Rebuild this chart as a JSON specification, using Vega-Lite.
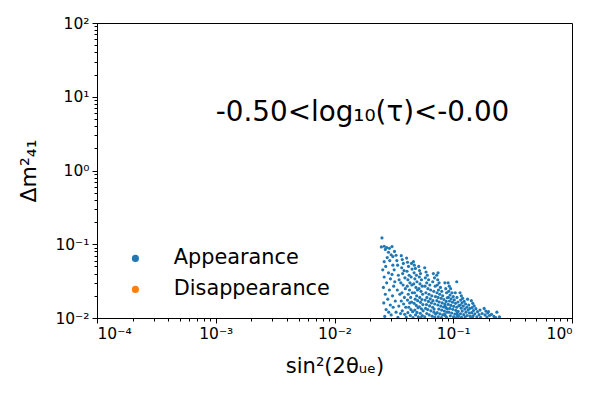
{
  "$schema": "https://vega.github.io/schema/vega-lite/v6.json",
  "autosize": {"type": "none"},
  "padding": {"left": 97, "top": 23, "right": 28, "bottom": 82},
  "width": 475,
  "height": 295,
  "config": {
    "view": {"stroke": "black", "strokeWidth": 1},
    "font": "DejaVu Sans",
    "axis": {"grid": false, "domainColor": "black", "tickColor": "black", "labelColor": "black", "titleColor": "black", "labelFont": "DejaVu Sans", "titleFont": "DejaVu Sans", "titleFontWeight": "normal", "tickWidth": 1, "domainWidth": 1}
  },
  "datasets": {
    "pts": [
{"x":0.0251,"y":0.122,"s":"Appearance"},{"x":0.0248,"y":0.092,"s":"Appearance"},{"x":0.0262,"y":0.094,"s":"Appearance"},{"x":0.0275,"y":0.090,"s":"Appearance"},{"x":0.0290,"y":0.088,"s":"Appearance"},{"x":0.0305,"y":0.093,"s":"Appearance"},{"x":0.0268,"y":0.085,"s":"Appearance"},{"x":0.0285,"y":0.078,"s":"Appearance"},{"x":0.0300,"y":0.072,"s":"Appearance"},{"x":0.0278,"y":0.066,"s":"Appearance"},{"x":0.0262,"y":0.058,"s":"Appearance"},{"x":0.0292,"y":0.060,"s":"Appearance"},{"x":0.0310,"y":0.068,"s":"Appearance"},{"x":0.0320,"y":0.080,"s":"Appearance"},{"x":0.0330,"y":0.071,"s":"Appearance"},{"x":0.0255,"y":0.045,"s":"Appearance"},{"x":0.0270,"y":0.050,"s":"Appearance"},{"x":0.0285,"y":0.041,"s":"Appearance"},{"x":0.0262,"y":0.036,"s":"Appearance"},{"x":0.0296,"y":0.034,"s":"Appearance"},{"x":0.0275,"y":0.030,"s":"Appearance"},{"x":0.0258,"y":0.026,"s":"Appearance"},{"x":0.0290,"y":0.024,"s":"Appearance"},{"x":0.0268,"y":0.021,"s":"Appearance"},{"x":0.0281,"y":0.018,"s":"Appearance"},{"x":0.0260,"y":0.016,"s":"Appearance"},{"x":0.0295,"y":0.015,"s":"Appearance"},{"x":0.0272,"y":0.013,"s":"Appearance"},{"x":0.0286,"y":0.012,"s":"Appearance"},{"x":0.0300,"y":0.011,"s":"Appearance"},{"x":0.0265,"y":0.0105,"s":"Appearance"},{"x":0.0310,"y":0.052,"s":"Appearance"},{"x":0.0318,"y":0.045,"s":"Appearance"},{"x":0.0305,"y":0.039,"s":"Appearance"},{"x":0.0322,"y":0.031,"s":"Appearance"},{"x":0.0315,"y":0.027,"s":"Appearance"},{"x":0.0308,"y":0.020,"s":"Appearance"},{"x":0.0325,"y":0.017,"s":"Appearance"},{"x":0.0312,"y":0.014,"s":"Appearance"},{"x":0.0330,"y":0.012,"s":"Appearance"},{"x":0.0335,"y":0.060,"s":"Appearance"},{"x":0.0340,"y":0.052,"s":"Appearance"},{"x":0.0345,"y":0.038,"s":"Appearance"},{"x":0.0350,"y":0.033,"s":"Appearance"},{"x":0.0338,"y":0.024,"s":"Appearance"},{"x":0.0355,"y":0.021,"s":"Appearance"},{"x":0.0348,"y":0.0145,"s":"Appearance"},{"x":0.0360,"y":0.0115,"s":"Appearance"},{"x":0.0342,"y":0.0102,"s":"Appearance"},
{"x":0.0365,"y":0.070,"s":"Appearance"},{"x":0.0372,"y":0.062,"s":"Appearance"},{"x":0.0380,"y":0.055,"s":"Appearance"},{"x":0.0368,"y":0.048,"s":"Appearance"},{"x":0.0385,"y":0.044,"s":"Appearance"},{"x":0.0375,"y":0.040,"s":"Appearance"},{"x":0.0392,"y":0.035,"s":"Appearance"},{"x":0.0362,"y":0.030,"s":"Appearance"},{"x":0.0378,"y":0.028,"s":"Appearance"},{"x":0.0395,"y":0.025,"s":"Appearance"},{"x":0.0370,"y":0.022,"s":"Appearance"},{"x":0.0388,"y":0.019,"s":"Appearance"},{"x":0.0365,"y":0.017,"s":"Appearance"},{"x":0.0382,"y":0.0155,"s":"Appearance"},{"x":0.0398,"y":0.014,"s":"Appearance"},{"x":0.0372,"y":0.0125,"s":"Appearance"},{"x":0.0390,"y":0.0112,"s":"Appearance"},{"x":0.0402,"y":0.0103,"s":"Appearance"},{"x":0.0405,"y":0.065,"s":"Appearance"},{"x":0.0412,"y":0.057,"s":"Appearance"},{"x":0.0420,"y":0.050,"s":"Appearance"},{"x":0.0408,"y":0.043,"s":"Appearance"},{"x":0.0425,"y":0.038,"s":"Appearance"},{"x":0.0415,"y":0.033,"s":"Appearance"},{"x":0.0432,"y":0.030,"s":"Appearance"},{"x":0.0410,"y":0.027,"s":"Appearance"},{"x":0.0428,"y":0.024,"s":"Appearance"},{"x":0.0418,"y":0.021,"s":"Appearance"},{"x":0.0438,"y":0.019,"s":"Appearance"},{"x":0.0412,"y":0.0175,"s":"Appearance"},{"x":0.0430,"y":0.016,"s":"Appearance"},{"x":0.0422,"y":0.014,"s":"Appearance"},{"x":0.0440,"y":0.013,"s":"Appearance"},{"x":0.0415,"y":0.0118,"s":"Appearance"},{"x":0.0435,"y":0.0108,"s":"Appearance"},{"x":0.0445,"y":0.055,"s":"Appearance"},{"x":0.0450,"y":0.046,"s":"Appearance"},{"x":0.0442,"y":0.036,"s":"Appearance"},{"x":0.0448,"y":0.028,"s":"Appearance"},{"x":0.0452,"y":0.022,"s":"Appearance"},{"x":0.0446,"y":0.0165,"s":"Appearance"},{"x":0.0455,"y":0.0122,"s":"Appearance"},{"x":0.0458,"y":0.0101,"s":"Appearance"},
{"x":0.0462,"y":0.058,"s":"Appearance"},{"x":0.0470,"y":0.052,"s":"Appearance"},{"x":0.0480,"y":0.047,"s":"Appearance"},{"x":0.0468,"y":0.041,"s":"Appearance"},{"x":0.0490,"y":0.038,"s":"Appearance"},{"x":0.0475,"y":0.034,"s":"Appearance"},{"x":0.0495,"y":0.031,"s":"Appearance"},{"x":0.0465,"y":0.029,"s":"Appearance"},{"x":0.0485,"y":0.026,"s":"Appearance"},{"x":0.0500,"y":0.024,"s":"Appearance"},{"x":0.0472,"y":0.022,"s":"Appearance"},{"x":0.0492,"y":0.020,"s":"Appearance"},{"x":0.0478,"y":0.018,"s":"Appearance"},{"x":0.0502,"y":0.0172,"s":"Appearance"},{"x":0.0468,"y":0.0158,"s":"Appearance"},{"x":0.0488,"y":0.0148,"s":"Appearance"},{"x":0.0505,"y":0.0138,"s":"Appearance"},{"x":0.0475,"y":0.0128,"s":"Appearance"},{"x":0.0495,"y":0.0119,"s":"Appearance"},{"x":0.0482,"y":0.0110,"s":"Appearance"},{"x":0.0508,"y":0.0104,"s":"Appearance"},{"x":0.0512,"y":0.050,"s":"Appearance"},{"x":0.0520,"y":0.044,"s":"Appearance"},{"x":0.0530,"y":0.040,"s":"Appearance"},{"x":0.0518,"y":0.036,"s":"Appearance"},{"x":0.0540,"y":0.033,"s":"Appearance"},{"x":0.0525,"y":0.029,"s":"Appearance"},{"x":0.0548,"y":0.027,"s":"Appearance"},{"x":0.0515,"y":0.025,"s":"Appearance"},{"x":0.0535,"y":0.023,"s":"Appearance"},{"x":0.0552,"y":0.021,"s":"Appearance"},{"x":0.0522,"y":0.019,"s":"Appearance"},{"x":0.0545,"y":0.0178,"s":"Appearance"},{"x":0.0530,"y":0.0163,"s":"Appearance"},{"x":0.0555,"y":0.0152,"s":"Appearance"},{"x":0.0518,"y":0.0142,"s":"Appearance"},{"x":0.0540,"y":0.0133,"s":"Appearance"},{"x":0.0558,"y":0.0125,"s":"Appearance"},{"x":0.0528,"y":0.0116,"s":"Appearance"},{"x":0.0548,"y":0.0108,"s":"Appearance"},{"x":0.0535,"y":0.0101,"s":"Appearance"},
{"x":0.0575,"y":0.048,"s":"Appearance"},{"x":0.0590,"y":0.042,"s":"Appearance"},{"x":0.0605,"y":0.038,"s":"Appearance"},{"x":0.0582,"y":0.035,"s":"Appearance"},{"x":0.0620,"y":0.033,"s":"Appearance"},{"x":0.0598,"y":0.030,"s":"Appearance"},{"x":0.0635,"y":0.028,"s":"Appearance"},{"x":0.0578,"y":0.027,"s":"Appearance"},{"x":0.0612,"y":0.025,"s":"Appearance"},{"x":0.0645,"y":0.024,"s":"Appearance"},{"x":0.0588,"y":0.022,"s":"Appearance"},{"x":0.0625,"y":0.021,"s":"Appearance"},{"x":0.0660,"y":0.020,"s":"Appearance"},{"x":0.0600,"y":0.019,"s":"Appearance"},{"x":0.0640,"y":0.0182,"s":"Appearance"},{"x":0.0580,"y":0.0175,"s":"Appearance"},{"x":0.0618,"y":0.0168,"s":"Appearance"},{"x":0.0655,"y":0.0160,"s":"Appearance"},{"x":0.0595,"y":0.0152,"s":"Appearance"},{"x":0.0632,"y":0.0146,"s":"Appearance"},{"x":0.0670,"y":0.0140,"s":"Appearance"},{"x":0.0585,"y":0.0135,"s":"Appearance"},{"x":0.0610,"y":0.0130,"s":"Appearance"},{"x":0.0648,"y":0.0125,"s":"Appearance"},{"x":0.0688,"y":0.0120,"s":"Appearance"},{"x":0.0598,"y":0.0115,"s":"Appearance"},{"x":0.0628,"y":0.0110,"s":"Appearance"},{"x":0.0665,"y":0.0106,"s":"Appearance"},{"x":0.0700,"y":0.0102,"s":"Appearance"},{"x":0.0575,"y":0.0104,"s":"Appearance"},{"x":0.0680,"y":0.040,"s":"Appearance"},{"x":0.0695,"y":0.035,"s":"Appearance"},{"x":0.0672,"y":0.031,"s":"Appearance"},{"x":0.0705,"y":0.027,"s":"Appearance"},{"x":0.0685,"y":0.023,"s":"Appearance"},{"x":0.0708,"y":0.0195,"s":"Appearance"},{"x":0.0675,"y":0.0172,"s":"Appearance"},{"x":0.0698,"y":0.0155,"s":"Appearance"},{"x":0.0690,"y":0.0132,"s":"Appearance"},{"x":0.0710,"y":0.0113,"s":"Appearance"},
{"x":0.0725,"y":0.038,"s":"Appearance"},{"x":0.0740,"y":0.033,"s":"Appearance"},{"x":0.0745,"y":0.041,"s":"Appearance"},{"x":0.0760,"y":0.030,"s":"Appearance"},{"x":0.0735,"y":0.028,"s":"Appearance"},{"x":0.0780,"y":0.026,"s":"Appearance"},{"x":0.0750,"y":0.024,"s":"Appearance"},{"x":0.0800,"y":0.023,"s":"Appearance"},{"x":0.0730,"y":0.022,"s":"Appearance"},{"x":0.0770,"y":0.021,"s":"Appearance"},{"x":0.0815,"y":0.020,"s":"Appearance"},{"x":0.0745,"y":0.019,"s":"Appearance"},{"x":0.0790,"y":0.0185,"s":"Appearance"},{"x":0.0835,"y":0.0178,"s":"Appearance"},{"x":0.0728,"y":0.0172,"s":"Appearance"},{"x":0.0762,"y":0.0165,"s":"Appearance"},{"x":0.0808,"y":0.0160,"s":"Appearance"},{"x":0.0850,"y":0.0155,"s":"Appearance"},{"x":0.0742,"y":0.0150,"s":"Appearance"},{"x":0.0785,"y":0.0145,"s":"Appearance"},{"x":0.0828,"y":0.0141,"s":"Appearance"},{"x":0.0870,"y":0.0137,"s":"Appearance"},{"x":0.0755,"y":0.0132,"s":"Appearance"},{"x":0.0798,"y":0.0128,"s":"Appearance"},{"x":0.0842,"y":0.0124,"s":"Appearance"},{"x":0.0885,"y":0.0120,"s":"Appearance"},{"x":0.0732,"y":0.0118,"s":"Appearance"},{"x":0.0772,"y":0.0114,"s":"Appearance"},{"x":0.0815,"y":0.0110,"s":"Appearance"},{"x":0.0860,"y":0.0107,"s":"Appearance"},{"x":0.0748,"y":0.0104,"s":"Appearance"},{"x":0.0795,"y":0.0101,"s":"Appearance"},{"x":0.0880,"y":0.0102,"s":"Appearance"},{"x":0.0850,"y":0.030,"s":"Appearance"},{"x":0.0865,"y":0.025,"s":"Appearance"},{"x":0.0878,"y":0.022,"s":"Appearance"},{"x":0.0890,"y":0.0188,"s":"Appearance"},{"x":0.0872,"y":0.0168,"s":"Appearance"},{"x":0.0855,"y":0.0146,"s":"Appearance"},{"x":0.0892,"y":0.0133,"s":"Appearance"},{"x":0.0845,"y":0.0112,"s":"Appearance"},
{"x":0.0905,"y":0.030,"s":"Appearance"},{"x":0.0925,"y":0.027,"s":"Appearance"},{"x":0.0950,"y":0.025,"s":"Appearance"},{"x":0.0915,"y":0.023,"s":"Appearance"},{"x":0.0975,"y":0.022,"s":"Appearance"},{"x":0.0940,"y":0.0205,"s":"Appearance"},{"x":0.1000,"y":0.0195,"s":"Appearance"},{"x":0.0910,"y":0.0190,"s":"Appearance"},{"x":0.0960,"y":0.0182,"s":"Appearance"},{"x":0.1020,"y":0.0176,"s":"Appearance"},{"x":0.0930,"y":0.0170,"s":"Appearance"},{"x":0.0985,"y":0.0164,"s":"Appearance"},{"x":0.1045,"y":0.0158,"s":"Appearance"},{"x":0.0908,"y":0.0153,"s":"Appearance"},{"x":0.0955,"y":0.0148,"s":"Appearance"},{"x":0.1010,"y":0.0144,"s":"Appearance"},{"x":0.1070,"y":0.0140,"s":"Appearance"},{"x":0.0935,"y":0.0135,"s":"Appearance"},{"x":0.0990,"y":0.0131,"s":"Appearance"},{"x":0.1050,"y":0.0127,"s":"Appearance"},{"x":0.1100,"y":0.0123,"s":"Appearance"},{"x":0.0920,"y":0.0120,"s":"Appearance"},{"x":0.0970,"y":0.0117,"s":"Appearance"},{"x":0.1030,"y":0.0113,"s":"Appearance"},{"x":0.1085,"y":0.0110,"s":"Appearance"},{"x":0.0945,"y":0.0107,"s":"Appearance"},{"x":0.1005,"y":0.0104,"s":"Appearance"},{"x":0.1060,"y":0.0101,"s":"Appearance"},{"x":0.1110,"y":0.0105,"s":"Appearance"},{"x":0.1040,"y":0.022,"s":"Appearance"},{"x":0.1075,"y":0.019,"s":"Appearance"},{"x":0.1095,"y":0.0165,"s":"Appearance"},{"x":0.1115,"y":0.0147,"s":"Appearance"},{"x":0.1080,"y":0.0118,"s":"Appearance"},{"x":0.1070,"y":0.031,"s":"Appearance"},
{"x":0.1140,"y":0.022,"s":"Appearance"},{"x":0.1170,"y":0.020,"s":"Appearance"},{"x":0.1200,"y":0.0185,"s":"Appearance"},{"x":0.1155,"y":0.0175,"s":"Appearance"},{"x":0.1235,"y":0.0168,"s":"Appearance"},{"x":0.1185,"y":0.0160,"s":"Appearance"},{"x":0.1270,"y":0.0155,"s":"Appearance"},{"x":0.1145,"y":0.0150,"s":"Appearance"},{"x":0.1215,"y":0.0145,"s":"Appearance"},{"x":0.1300,"y":0.0140,"s":"Appearance"},{"x":0.1165,"y":0.0136,"s":"Appearance"},{"x":0.1250,"y":0.0132,"s":"Appearance"},{"x":0.1335,"y":0.0128,"s":"Appearance"},{"x":0.1190,"y":0.0124,"s":"Appearance"},{"x":0.1280,"y":0.0120,"s":"Appearance"},{"x":0.1370,"y":0.0117,"s":"Appearance"},{"x":0.1150,"y":0.0114,"s":"Appearance"},{"x":0.1225,"y":0.0111,"s":"Appearance"},{"x":0.1310,"y":0.0108,"s":"Appearance"},{"x":0.1390,"y":0.0105,"s":"Appearance"},{"x":0.1175,"y":0.0102,"s":"Appearance"},{"x":0.1260,"y":0.0103,"s":"Appearance"},{"x":0.1350,"y":0.0150,"s":"Appearance"},{"x":0.1380,"y":0.0135,"s":"Appearance"},{"x":0.1320,"y":0.0180,"s":"Appearance"},
{"x":0.1420,"y":0.0172,"s":"Appearance"},{"x":0.1460,"y":0.0158,"s":"Appearance"},{"x":0.1500,"y":0.0146,"s":"Appearance"},{"x":0.1440,"y":0.0138,"s":"Appearance"},{"x":0.1550,"y":0.0134,"s":"Appearance"},{"x":0.1480,"y":0.0126,"s":"Appearance"},{"x":0.1600,"y":0.0122,"s":"Appearance"},{"x":0.1430,"y":0.0118,"s":"Appearance"},{"x":0.1520,"y":0.0114,"s":"Appearance"},{"x":0.1650,"y":0.0111,"s":"Appearance"},{"x":0.1470,"y":0.0107,"s":"Appearance"},{"x":0.1580,"y":0.0104,"s":"Appearance"},{"x":0.1700,"y":0.0102,"s":"Appearance"},{"x":0.1750,"y":0.0115,"s":"Appearance"},{"x":0.1680,"y":0.0128,"s":"Appearance"},{"x":0.1450,"y":0.0101,"s":"Appearance"},
{"x":0.1820,"y":0.0135,"s":"Appearance"},{"x":0.1880,"y":0.0124,"s":"Appearance"},{"x":0.1950,"y":0.0117,"s":"Appearance"},{"x":0.1850,"y":0.0110,"s":"Appearance"},{"x":0.2020,"y":0.0108,"s":"Appearance"},{"x":0.1920,"y":0.0103,"s":"Appearance"},{"x":0.2100,"y":0.0112,"s":"Appearance"},{"x":0.2200,"y":0.0105,"s":"Appearance"},{"x":0.2330,"y":0.0120,"s":"Appearance"},{"x":0.2450,"y":0.0104,"s":"Appearance"},{"x":0.1980,"y":0.0122,"s":"Appearance"},{"x":0.2280,"y":0.0101,"s":"Appearance"}
    ]
  },
  "layer": [
    {
      "data": {"name": "pts"},
      "mark": {"type": "circle", "size": 10, "opacity": 1, "clip": true},
      "encoding": {
        "x": {"field": "x", "type": "quantitative",
          "scale": {"type": "log", "domain": [0.0001, 1], "nice": false},
          "axis": {"orient": "bottom", "values": [0.0001, 0.001, 0.01, 0.1, 1], "tickSize": 5, "labelFontSize": 15.5, "labelPadding": 3,
            "labelExpr": "datum.value < 0.0005 ? '10⁻⁴' : datum.value < 0.005 ? '10⁻³' : datum.value < 0.05 ? '10⁻²' : datum.value < 0.5 ? '10⁻¹' : '10⁰'",
            "title": "sin²(2θᵤₑ)", "titleFontSize": 21, "titlePadding": 14}},
        "y": {"field": "y", "type": "quantitative",
          "scale": {"type": "log", "domain": [0.01, 100], "nice": false},
          "axis": {"orient": "left", "values": [0.01, 0.1, 1, 10, 100], "tickSize": 5, "labelFontSize": 15.5, "labelPadding": 3,
            "labelExpr": "datum.value < 0.05 ? '10⁻²' : datum.value < 0.5 ? '10⁻¹' : datum.value < 5 ? '10⁰' : datum.value < 50 ? '10¹' : '10²'",
            "title": "Δm²₄₁", "titleFontSize": 22, "titlePadding": 14}},
        "color": {"field": "s", "type": "nominal",
          "scale": {"domain": ["Appearance", "Disappearance"], "range": ["#1f77b4", "#ff7f0e"]},
          "legend": {"orient": "none", "legendX": 28, "legendY": 225, "title": null, "labelFontSize": 20.8, "labelFont": "DejaVu Sans", "labelColor": "black", "symbolType": "circle", "symbolSize": 50, "labelOffset": 28, "rowPadding": 9, "padding": 0, "symbolStrokeWidth": 0}}
      }
    },
    {
      "data": {"values": [{"x": 0.001, "y": 5, "t": "-0.50<log₁₀(τ)<-0.00"}]},
      "mark": {"type": "text", "align": "left", "baseline": "alphabetic", "fontSize": 27.8, "font": "DejaVu Sans", "color": "black", "dy": 2},
      "encoding": {
        "x": {"field": "x", "type": "quantitative",
          "scale": {"type": "log", "domain": [0.0001, 1], "nice": false},
          "axis": {"orient": "bottom", "values": [0.0002,0.0003,0.0004,0.0005,0.0006,0.0007,0.0008,0.0009,0.002,0.003,0.004,0.005,0.006,0.007,0.008,0.009,0.02,0.03,0.04,0.05,0.06,0.07,0.08,0.09,0.2,0.3,0.4,0.5,0.6,0.7,0.8,0.9], "labels": false, "domain": false, "tickSize": 3, "title": null}},
        "y": {"field": "y", "type": "quantitative",
          "scale": {"type": "log", "domain": [0.01, 100], "nice": false},
          "axis": {"orient": "left", "values": [0.02,0.03,0.04,0.05,0.06,0.07,0.08,0.09,0.2,0.3,0.4,0.5,0.6,0.7,0.8,0.9,2,3,4,5,6,7,8,9,20,30,40,50,60,70,80,90], "labels": false, "domain": false, "tickSize": 3, "title": null}},
        "text": {"field": "t"}
      }
    }
  ],
  "resolve": {"axis": {"x": "independent", "y": "independent"}}
}
